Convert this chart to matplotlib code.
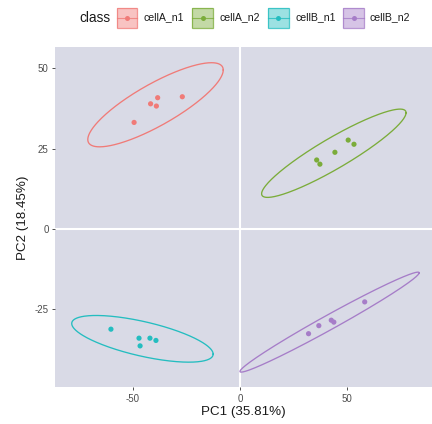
import numpy as np
import matplotlib
matplotlib.use('Agg')
import matplotlib.pyplot as plt
from matplotlib.patches import Rectangle
from matplotlib.lines import Line2D

plt.rcParams['font.family'] = ['Liberation Sans', 'DejaVu Sans']

classes = ['cellA_n1', 'cellA_n2', 'cellB_n1', 'cellB_n2']
colors = ['#F07B78', '#7BAC3A', '#24BDC0', '#A67DC8']

pc1_cellA_n1 = [-49.4, -41.7, -38.4, -39.0, -26.9]
pc2_cellA_n1 = [33.2, 39.0, 40.9, 38.3, 41.2]
pc1_cellA_n2 = [35.8, 37.3, 44.3, 50.5, 53.2]
pc2_cellA_n2 = [21.5, 20.2, 23.9, 27.7, 26.4]
pc1_cellB_n1 = [-60.2, -47.1, -46.6, -42.0, -39.2]
pc2_cellB_n1 = [-31.2, -34.0, -36.4, -34.0, -34.7]
pc1_cellB_n2 = [32.0, 36.8, 42.6, 43.8, 58.2]
pc2_cellB_n2 = [-32.6, -30.1, -28.4, -29.0, -22.7]

pc1 = [pc1_cellA_n1, pc1_cellA_n2, pc1_cellB_n1, pc1_cellB_n2]
pc2 = [pc2_cellA_n1, pc2_cellA_n2, pc2_cellB_n1, pc2_cellB_n2]

# confidence ellipses (data units): centre, half-ranges, correlation
ell_cx = [-39.4, 43.8, -45.5, 41.8]
ell_cy = [38.7, 23.6, -34.2, -29.0]
ell_rx = [31.6, 33.7, 33.0, 41.8]
ell_ry = [13.1, 13.75, 7.27, 15.57]
ell_rho = [0.826, 0.917, -0.655, 0.986]

xticks = [-50, 0, 50]
yticks = [-25, 0, 25, 50]
xlabel = 'PC1 (35.81%)'
ylabel = 'PC2 (18.45%)'

W, H = 432, 424
fig = plt.figure(figsize=(W / 100, H / 100), dpi=100)
ax = fig.add_axes([55 / W, (H - 387.3) / H, 1 - 55 / W, (387.3 - 47.3) / H])
ax.set_facecolor('#D9DAE6')
ax.set_xlim(-86.3, 89.6)
ax.set_ylim(-49.3, 56.6)
ax.axhline(0, color='white', lw=1.5, zorder=1)
ax.axvline(0, color='white', lw=1.5, zorder=1)

t = np.linspace(0, 2 * np.pi, 400)
for i, c in enumerate(colors):
    ex = ell_cx[i] + ell_rx[i] * np.cos(t)
    ey = ell_cy[i] + ell_ry[i] * (ell_rho[i] * np.cos(t) + np.sqrt(1 - ell_rho[i] ** 2) * np.sin(t))
    ax.plot(ex, ey, color=c, lw=0.95, zorder=2)
    ax.scatter(pc1[i], pc2[i], s=14, color=c, edgecolors='none', zorder=3)

for s in ax.spines.values():
    s.set_visible(False)
ax.set_xticks(xticks)
ax.set_xticklabels([str(v) for v in xticks])
ax.set_yticks(yticks)
ax.set_yticklabels([str(v) for v in yticks])
ax.tick_params(length=2.5, width=0.6, color='#333333', labelsize=7,
               labelcolor='#4D4D4D', pad=2)
ax.set_xlabel(xlabel, fontsize=9.6, color='#1A1A1A', labelpad=2)
ax.set_ylabel(ylabel, fontsize=9.6, color='#1A1A1A', labelpad=4)

# legend at top
def fx(px):
    return px / W

def fy(py):
    return 1 - py / H

ymid = 17.5
fig.text(fx(79), fy(ymid), 'class', fontsize=9.8, color='#1A1A1A', va='center', ha='left')
key_x = [116.7, 192.3, 268.0, 343.3]
lab_x = [144.0, 219.7, 295.0, 370.0]
kw, kh = 20.6, 20.0
for i, c in enumerate(colors):
    x0 = key_x[i]
    fig.add_artist(Rectangle((fx(x0), fy(ymid + kh / 2)), kw / W, kh / H,
                             transform=fig.transFigure, facecolor=c, alpha=0.45,
                             edgecolor='none'))
    fig.add_artist(Rectangle((fx(x0), fy(ymid + kh / 2)), kw / W, kh / H,
                             transform=fig.transFigure, facecolor='none',
                             edgecolor=c, lw=0.9, alpha=0.8))
    fig.add_artist(Line2D([fx(x0), fx(x0 + kw)], [fy(ymid), fy(ymid)],
                          transform=fig.transFigure, color=c, lw=0.8, alpha=0.8))
    fig.add_artist(Line2D([fx(x0 + kw / 2)], [fy(ymid)], transform=fig.transFigure,
                          marker='o', markersize=3.6, color=c, markeredgewidth=0))
    fig.text(fx(lab_x[i]), fy(ymid), classes[i], fontsize=7.6, color='#1A1A1A',
             va='center', ha='left')

fig.savefig('out.png', dpi=100)
